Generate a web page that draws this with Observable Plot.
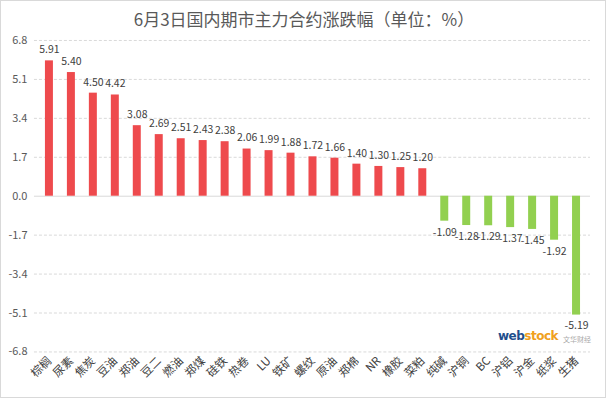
<!DOCTYPE html>
<html><head><meta charset="utf-8">
<script src="https://cdn.jsdelivr.net/npm/d3@7"></script>
<script src="https://cdn.jsdelivr.net/npm/@observablehq/plot@0.6"></script>
<style>
html,body{margin:0;padding:0;background:#fff;}
#wrap{position:relative;width:606px;height:398px;box-sizing:border-box;border:1px solid #d9d9d9;overflow:hidden;font-family:"Noto Sans CJK SC","Noto Sans",sans-serif;}
#title{position:absolute;left:0;top:5px;width:606px;text-align:center;font-size:17px;color:#595959;}
#chart{position:absolute;left:-1px;top:27px;}
#wm{position:absolute;left:497px;top:329px;line-height:12px;font-family:"DejaVu Sans",sans-serif;font-weight:bold;font-size:12px;letter-spacing:-0.5px;white-space:nowrap;}
#wm .cn{font-family:"Noto Sans CJK SC";font-weight:normal;font-size:7px;color:#aaa;margin-left:5px;letter-spacing:0;vertical-align:-2px;}
</style></head>
<body><div id="wrap"><div id="title">6月3日国内期市主力合约涨跌幅（单位：%）</div><div id="chart"></div>
<div id="wm"><span style="color:#1f4e8c">web</span><span style="color:#f0a020">stock</span><span class="cn">文华财经</span></div></div>
<script>
const categories = ["棕榈","尿素","焦炭","豆油","郑油","豆二","燃油","郑煤","硅铁","热卷","LU","铁矿","螺纹","原油","郑棉","NR","橡胶","菜粕","纯碱","沪铜","BC","沪铝","沪金","纸浆","生猪"];
const values = [5.91,5.40,4.50,4.42,3.08,2.69,2.51,2.43,2.38,2.06,1.99,1.88,1.72,1.66,1.40,1.30,1.25,1.20,-1.09,-1.28,-1.29,-1.37,-1.45,-1.92,-5.19];
const yTicks = [-6.8,-5.1,-3.4,-1.7,0,1.7,3.4,5.1,6.8];
const data = categories.map((name,i)=>({name, value: values[i]}));
const pos = data.filter(d=>d.value>=0), neg = data.filter(d=>d.value<0);
const chart = Plot.plot({
  width: 606, height: 370,
  marginLeft: 34, marginRight: 15, marginTop: 12, marginBottom: 46,
  style: {fontFamily: "'Noto Sans CJK SC','Noto Sans',sans-serif", background: "transparent"},
  x: {domain: categories, paddingInner: 0.64, paddingOuter: 0.32, label: null},
  y: {domain: [-6.8, 6.8], label: null},
  marks: [
    Plot.ruleY(yTicks.filter(d=>d!==0), {stroke: "#d9d9d9", strokeDasharray: "3,2"}),
    Plot.ruleY([0], {stroke: "#d9d9d9"}),
    Plot.barY(pos, {x: "name", y: "value", fill: "#EE4A4D"}),
    Plot.barY(neg, {x: "name", y: "value", fill: "#92D050"}),
    Plot.text(pos, {x: "name", y: "value", text: d=>d.value.toFixed(2), dy: -11, fontSize: 10.5, fill: "#404040"}),
    Plot.text(neg, {x: "name", y: "value", text: d=>d.value.toFixed(2), dy: 11, fontSize: 10.5, fill: "#404040"}),
    Plot.axisY({ticks: yTicks, tickFormat: d=>d.toFixed(1), tickSize: 0, tickPadding: 7, fontSize: 11, color: "#595959"}),
    Plot.axisX({tickRotate: -45, tickSize: 0, tickPadding: 7, fontSize: 11.5, color: "#404040"})
  ]
});
document.getElementById("chart").appendChild(chart);
</script></body></html>
